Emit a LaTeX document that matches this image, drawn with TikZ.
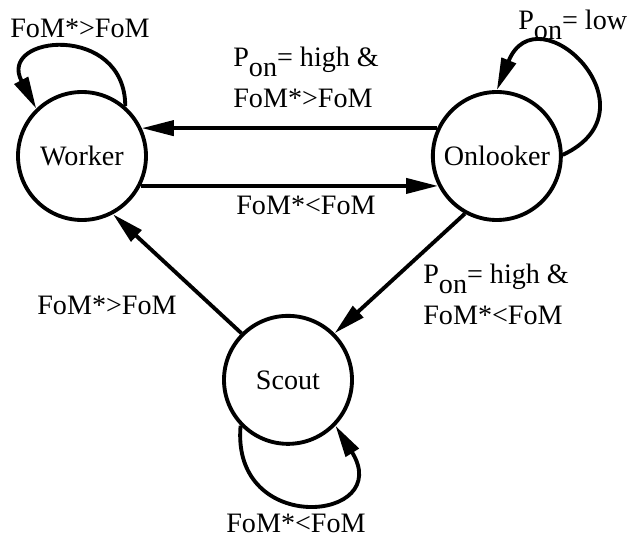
\documentclass[tikz,border=0pt]{standalone}
\usepackage{fontspec}
\setmainfont{Liberation Serif}
\usetikzlibrary{positioning, arrows.meta}

\newcommand{\pon}{P\lower5.5pt\hbox{on}}

\begin{document}
\begin{tikzpicture}[
    every node/.style={font=\fontsize{16}{23.4}\selectfont},
    state/.style={circle, draw, line width=2.2pt, minimum size=2.56cm, inner sep=0pt},
    lbl/.style={inner sep=0pt, align=left},
    arrow/.style={-{Triangle[length=0.64cm, width=0.3cm]}, line width=2.2pt}]

  \useasboundingbox (-1.64,3.12) rectangle (10.94,-7.62);

  \node[state] (worker) {Worker};
  \node[state, right=5.66cm of worker] (onlooker) {Onlooker};
  \node[state, below=1.84cm of worker, xshift=4.12cm] (scout) {Scout};

  % between worker and onlooker
  \draw[arrow] (onlooker.155) -- (worker.25);
  \draw[arrow] (worker.-27) -- (onlooker.207);
  \draw[arrow] (onlooker.241) -- (scout.45);
  \draw[arrow] (scout.135) -- (worker.298);

  % self loops
  \draw[arrow] (worker.49) to[out=90, in=118, looseness=2.4] (worker.134);
  \draw[arrow] (onlooker.1) to[out=25, in=68, looseness=3.0] (onlooker.90);
  \draw[arrow] (scout.224) to[out=265, in=302, looseness=3.05] (scout.316);

  \node[lbl, anchor=base] (lw) at (-0.04,2.36) {FoM*>FoM};
  \node[lbl, anchor=base west] (lo) at (8.72,2.52) {\pon= low};
  \node[lbl, anchor=base west] (low) at (3.02,0.96) {\pon= high \&\\FoM*>FoM};
  \node[lbl, anchor=base] (lwo) at (4.48,-1.18) {FoM*<FoM};
  \node[lbl, anchor=base] (lsw) at (0.5,-3.18) {FoM*>FoM};
  \node[lbl, anchor=base west] (los) at (6.82,-3.38) {\pon= high \&\\FoM*<FoM};
  \node[lbl, anchor=base] (ls) at (4.28,-7.53) {FoM*<FoM};
\end{tikzpicture}
\end{document}
